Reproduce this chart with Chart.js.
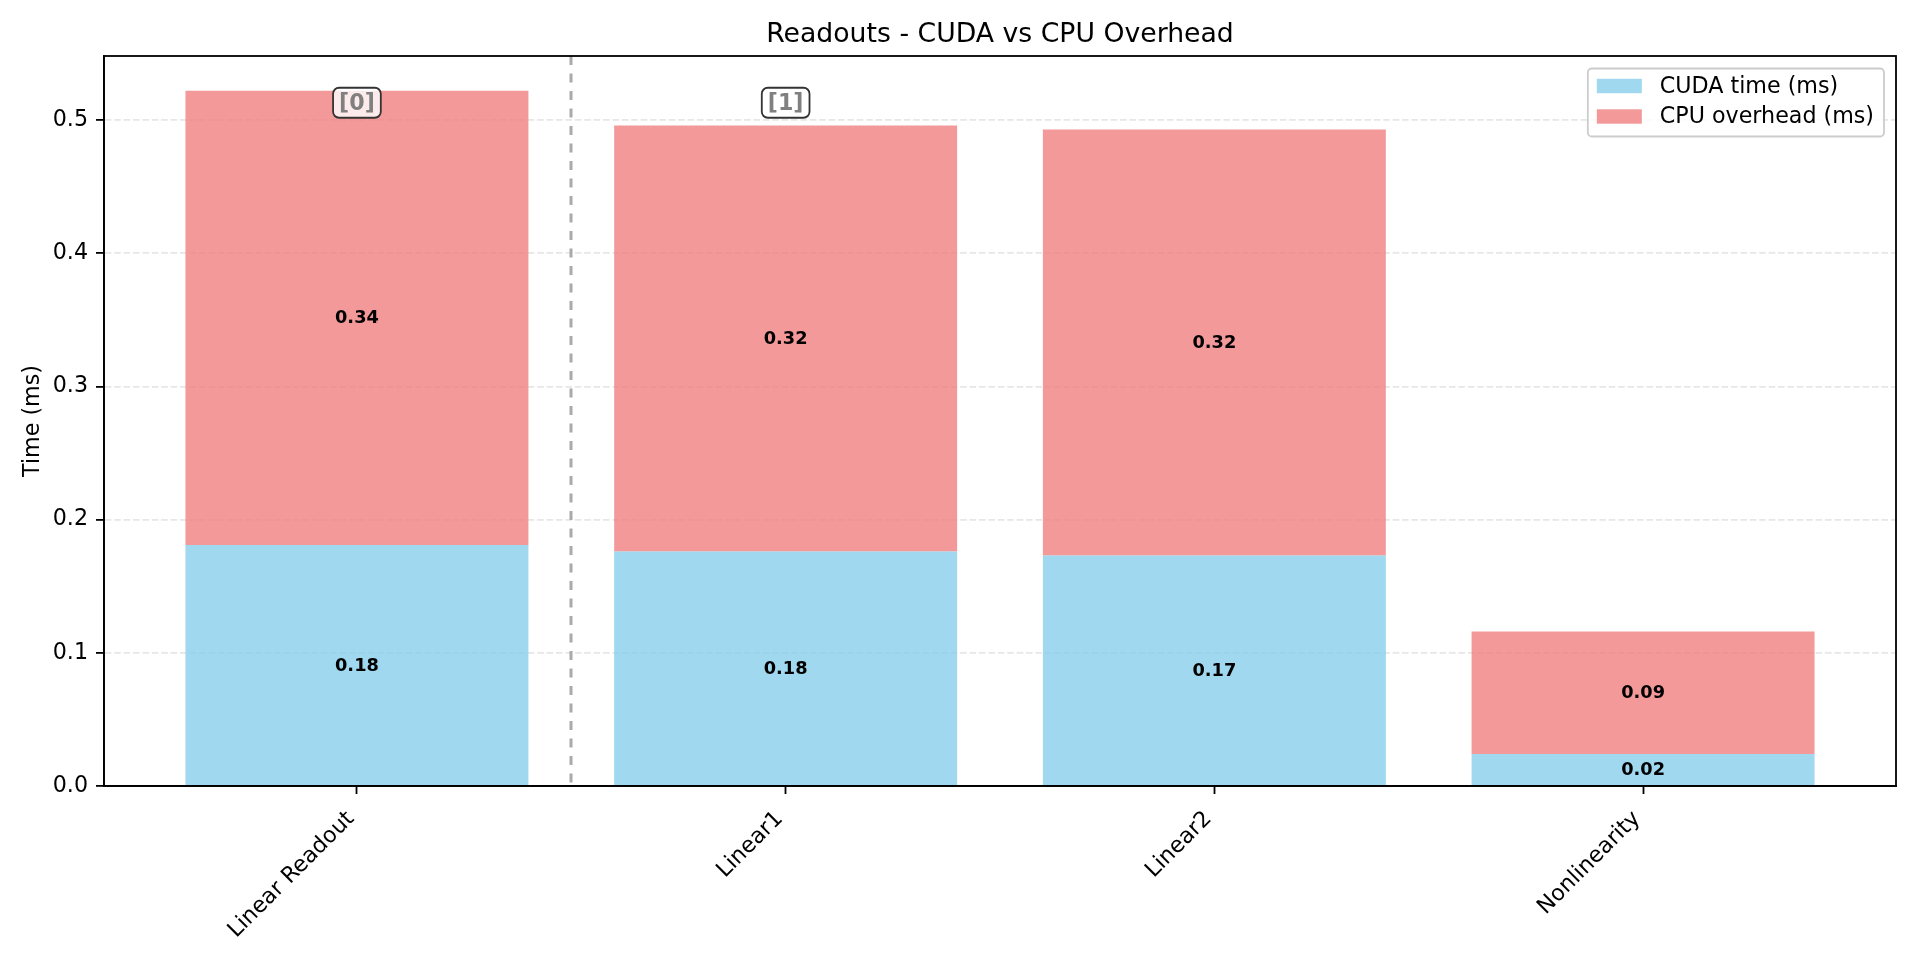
<!DOCTYPE html>
<html>
<head>
<meta charset="utf-8">
<script src="https://cdn.jsdelivr.net/npm/chart.js@4.4.1/dist/chart.umd.min.js"></script>
<style>
  html, body { margin: 0; padding: 0; background: #fff; }
  canvas { display: block; }
</style>
</head>
<body>
<canvas id="myChart" width="1920" height="960"></canvas>
<script>
// data
const categories = ['Linear Readout', 'Linear1', 'Linear2', 'Nonlinearity'];
const cudaTime = [0.181, 0.176, 0.173, 0.024];
const cpuOverhead = [0.341, 0.320, 0.320, 0.092];
const yTicks = [0.0, 0.1, 0.2, 0.3, 0.4, 0.5];
const markerLabels = ['[0]', '[1]'];
const markerX = [0, 1];
const markerY = [0.513, 0.513];
const dividerX = [0.5];

const FONT = "'DejaVu Sans', sans-serif";
const totals = cudaTime.map((v, i) => v + cpuOverhead[i]);
const yMax = Math.max(...totals) * 1.05;
const xPad = (categories.length - 1 + 0.8) * 0.05;
const xMin = -0.4 - xPad;
const xMax = categories.length - 1 + 0.4 + xPad;

const overlay = {
  id: 'overlay',
  afterDatasetsDraw(chart) {
    const ctx = chart.ctx;
    const a = chart.chartArea;
    const x = chart.scales.x, y = chart.scales.y;
    ctx.save();

    // value labels in the middle of each segment
    ctx.font = 'bold 17.8px ' + FONT;
    ctx.fillStyle = '#000';
    ctx.textAlign = 'center';
    ctx.textBaseline = 'middle';
    chart.data.datasets.forEach((ds, di) => {
      chart.getDatasetMeta(di).data.forEach((bar, i) => {
        ctx.fillText(ds.data[i].y.toFixed(2), bar.x, (bar.y + bar.base) / 2 + 1);
      });
    });

    // dashed divider
    ctx.strokeStyle = '#aaaaaa';
    ctx.lineWidth = 3;
    ctx.setLineDash([9, 8.5]);
    dividerX.forEach(v => {
      const px = Math.round(x.getPixelForValue(v));
      ctx.beginPath();
      ctx.moveTo(px, a.top);
      ctx.lineTo(px, a.bottom);
      ctx.stroke();
    });
    ctx.setLineDash([]);

    // group markers
    ctx.font = 'bold 22.2px ' + FONT;
    markerLabels.forEach((t, i) => {
      const cx = x.getPixelForValue(markerX[i]);
      const cy = y.getPixelForValue(markerY[i]);
      const w = ctx.measureText(t).width + 12;
      const h = 30;
      ctx.beginPath();
      ctx.roundRect(cx - w / 2, cy - h / 2, w, h, 6);
      ctx.fillStyle = 'rgba(255,255,255,0.8)';
      ctx.fill();
      ctx.strokeStyle = '#333';
      ctx.lineWidth = 1.8;
      ctx.stroke();
      ctx.fillStyle = '#808080';
      ctx.textAlign = 'center';
      ctx.textBaseline = 'middle';
      ctx.fillText(t, cx, cy + 1);
    });

    // axes frame
    ctx.strokeStyle = '#000';
    ctx.lineWidth = 1.8;
    ctx.strokeRect(a.left, a.top, a.right - a.left, a.bottom - a.top);

    // legend inside top right
    ctx.font = '22.2px ' + FONT;
    const items = chart.data.datasets;
    const textW = Math.max(...items.map(d => ctx.measureText(d.label).width));
    const boxW = 9 + 45 + 18 + textW + 10;
    const boxR = a.right - 12;
    const boxL = boxR - boxW;
    const boxT = a.top + 12.5;
    const boxH = 68;
    ctx.beginPath();
    ctx.roundRect(boxL, boxT, boxW, boxH, 4);
    ctx.fillStyle = 'rgba(255,255,255,0.8)';
    ctx.fill();
    ctx.strokeStyle = '#cccccc';
    ctx.lineWidth = 1.8;
    ctx.stroke();
    ctx.textAlign = 'left';
    ctx.textBaseline = 'middle';
    items.forEach((d, i) => {
      const rowY = boxT + 17.5 + i * 30.5;
      ctx.fillStyle = d.backgroundColor;
      ctx.fillRect(boxL + 9, rowY - 7.2, 45, 14.4);
      ctx.fillStyle = '#000';
      ctx.fillText(d.label, boxL + 9 + 45 + 18, rowY + 1);
    });

    // title
    ctx.font = '26.7px ' + FONT;
    ctx.textAlign = 'center';
    ctx.textBaseline = 'middle';
    ctx.fillStyle = '#000';
    ctx.fillText('Readouts - CUDA vs CPU Overhead', (a.left + a.right) / 2, 35);

    ctx.restore();
  }
};

new Chart(document.getElementById('myChart'), {
  type: 'bar',
  data: {
    datasets: [{
      label: 'CUDA time (ms)',
      data: cudaTime.map((v, i) => ({x: i, y: v})),
      backgroundColor: 'rgba(135, 206, 235, 0.8)',
      borderWidth: 0,
      barPercentage: 0.8,
      categoryPercentage: 1.0
    }, {
      label: 'CPU overhead (ms)',
      data: cpuOverhead.map((v, i) => ({x: i, y: v})),
      backgroundColor: 'rgba(240, 128, 128, 0.8)',
      borderWidth: 0,
      barPercentage: 0.8,
      categoryPercentage: 1.0
    }]
  },
  options: {
    responsive: false,
    animation: false,
    devicePixelRatio: 1,
    layout: { padding: { top: 56, right: 24, bottom: 0, left: 0 } },
    plugins: {
      legend: { display: false },
      title: { display: false },
      tooltip: { enabled: false }
    },
    scales: {
      x: {
        type: 'linear',
        stacked: true,
        offset: false,
        min: xMin,
        max: xMax,
        afterFit: s => { s.height = 174; },
        afterBuildTicks: s => { s.ticks = categories.map((c, i) => ({value: i})); },
        grid: {
          offset: false,
          drawOnChartArea: false,
          tickLength: 8,
          tickColor: '#000',
          tickWidth: 1.8
        },
        border: { display: true, color: '#000', width: 1.8 },
        ticks: {
          autoSkip: false,
          minRotation: 45,
          maxRotation: 45,
          padding: 12,
          labelOffset: -6,
          color: '#000',
          font: { family: FONT, size: 22.2 },
          callback: v => categories[v]
        }
      },
      y: {
        stacked: true,
        min: 0,
        max: yMax,
        afterFit: s => { s.width = 104; },
        afterBuildTicks: s => { s.ticks = yTicks.map(v => ({value: v})); },
        grid: {
          color: 'rgba(176, 176, 176, 0.3)',
          lineWidth: 1.8,
          tickBorderDash: [],
          tickLength: 8,
          tickColor: '#000',
          tickWidth: 1.8
        },
        border: { display: true, color: '#000', width: 1.8, dash: [6.6, 2.8] },
        title: {
          display: true,
          text: 'Time (ms)',
          color: '#000',
          font: { family: FONT, size: 22.2 },
          padding: { top: 20, bottom: 0 }
        },
        ticks: {
          padding: 8,
          color: '#000',
          font: { family: FONT, size: 22.2 },
          callback: v => v.toFixed(1)
        }
      }
    }
  },
  plugins: [overlay]
});
</script>
</body>
</html>
